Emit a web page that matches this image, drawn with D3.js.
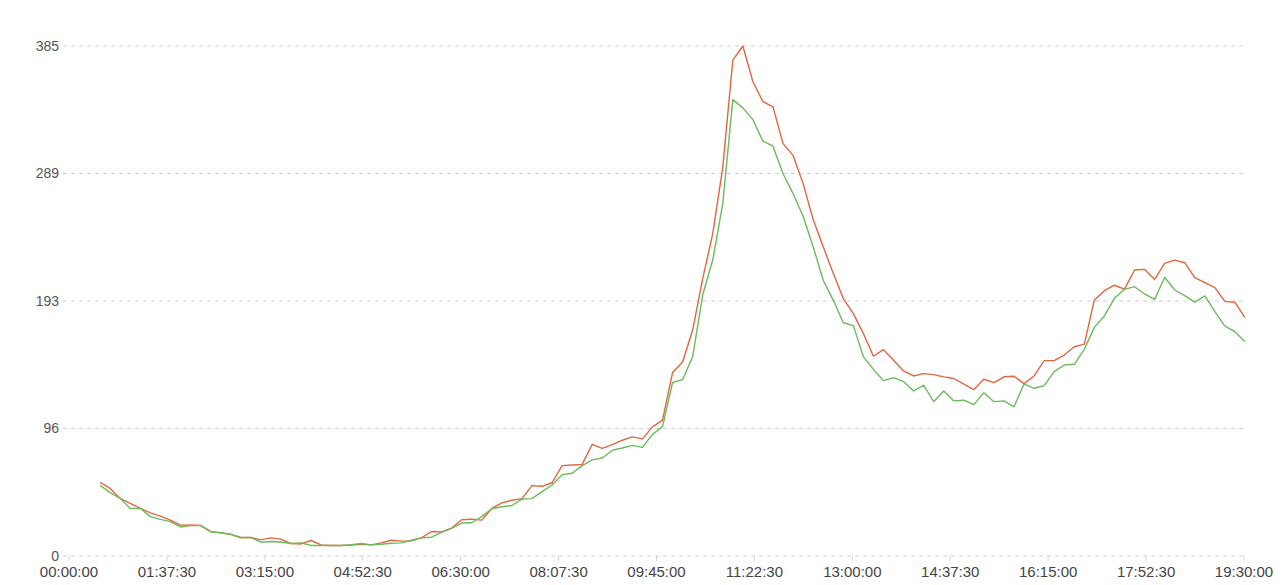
<!DOCTYPE html>
<html lang="en">
<head>
<meta charset="UTF-8">
<title>Chart</title>
<script src="https://d3js.org/d3.v7.min.js"></script>
<style>
    body { margin: 0; background: #fff; }
    svg { display: block; font-family: "Liberation Sans", Arial, sans-serif; }
    .grid line { stroke: #cfcfcf; stroke-dasharray: 4 4; }
    .line { fill: none; stroke-width: 1.4; stroke-linejoin: round; }
</style>
</head>
<body>
<svg width="1286" height="585"></svg>
<script>
    // x tick labels (every 97.5 minutes)
    var xTickLabels = ["00:00:00", "01:37:30", "03:15:00", "04:52:30", "06:30:00", "08:07:30",
        "09:45:00", "11:22:30", "13:00:00", "14:37:30", "16:15:00", "17:52:30", "19:30:00"];
    var yTicks = [0, 96.25, 192.5, 288.75, 385];

    // samples every 10 minutes starting 00:31
    var startMinute = 31, stepMinutes = 10;

    var redValues = [55.6, 51.0, 43.4, 39.7, 35.9, 32.6, 30.1, 27.1, 23.3, 23.5, 23.1, 18.6, 17.5, 16.3, 14.0, 14.0,
        12.2, 13.7, 12.7, 9.4, 9.1, 11.7, 8.4, 7.9, 7.9, 8.2, 8.9, 8.4, 9.9, 11.9, 11.2, 11.4, 13.7, 18.5, 18.2, 21.1,
        27.4, 27.8, 27.1, 35.9, 40.1, 42.1, 43.3, 53.1, 52.6, 55.3, 68.2, 68.7, 69.2, 84.3, 81.3, 84.1, 87.4, 89.9,
        88.4, 97.5, 102.6, 138.5, 146.4, 170.6, 209.4, 243.4, 293.6, 374.3, 385, 358, 343, 339, 311.3, 302.4, 281.1,
        254, 233.5, 213.4, 194.3, 183, 167.9, 150.8, 155.8, 147.7, 139.7, 135.9, 137.7, 136.9, 135.2, 134, 129.7,
        125.6, 133.4, 130.9, 135.3, 135.7, 130.1, 135.9, 147.5, 147.5, 151.7, 158, 160, 193.3, 200.3, 204.4, 201.5,
        215.9, 216.4, 208.8, 220.9, 223.4, 221.4, 210.1, 206.3, 202.6, 192.2, 191.4, 180];

    var greenValues = [53.3, 47.8, 43.5, 35.9, 35.9, 29.7, 27.7, 25.9, 21.9, 22.9, 22.9, 18.3, 17.6, 16.4, 13.8, 14.0,
        10.4, 10.9, 10.6, 9.4, 9.9, 7.9, 7.9, 7.9, 7.9, 8.6, 9.4, 8.4, 8.9, 9.6, 9.9, 11.9, 13.7, 14.2, 17.9, 20.9,
        24.9, 25.1, 29.7, 35.7, 37.2, 38.1, 43.0, 43.3, 48.6, 53.6, 61.4, 62.5, 68.2, 72.6, 74, 79.8, 81.5, 83.5,
        82, 91.8, 97.7, 131, 133.2, 150.3, 197, 223.4, 266, 344.5, 338.3, 329.4, 313.1, 309.4, 288.6, 273.6, 256.5,
        233.5, 208.2, 193.2, 176.1, 173.9, 150.5, 140.9, 132.4, 134.7, 131.7, 124.6, 128.9, 116.5, 124.6, 117.1, 117.6,
        114.3, 123.3, 116.5, 117.1, 112.6, 129.9, 126.6, 128.6, 139.2, 144.2, 144.7, 156, 172.6, 181.2, 194.5, 201.3,
        203.3, 197.8, 193.7, 210.4, 200.8, 196.5, 191.7, 196.3, 184.5, 173.6, 169.3, 161.8];

    var svg = d3.select("svg");

    function toMinutes(s) {
        var p = s.split(":").map(Number);
        return p[0] * 60 + p[1] + p[2] / 60;
    }

    var xScale = d3.scaleLinear().domain([0, 1170]).range([69, 1244]);
    var yScale = d3.scaleLinear().domain([0, 385]).range([556, 46]);

    // horizontal dashed grid lines
    svg.append("g").attr("class", "grid")
        .selectAll("line")
        .data(yTicks)
        .enter().append("line")
        .attr("x1", 63).attr("x2", 1245)
        .attr("y1", function (d) { return yScale(d); })
        .attr("y2", function (d) { return yScale(d); });

    // y labels
    svg.append("g")
        .selectAll("text")
        .data(yTicks)
        .enter().append("text")
        .attr("x", 59)
        .attr("y", function (d) { return yScale(d); })
        .attr("dy", "0.35em")
        .attr("text-anchor", "end")
        .attr("font-size", 14)
        .attr("fill", "#555")
        .text(function (d) { return Math.round(d); });

    // x axis ticks + labels
    var xg = svg.append("g");
    xg.selectAll("line")
        .data(xTickLabels)
        .enter().append("line")
        .attr("x1", function (d) { return xScale(toMinutes(d)); })
        .attr("x2", function (d) { return xScale(toMinutes(d)); })
        .attr("y1", 556).attr("y2", 561)
        .attr("stroke", "#d5d5d5");
    xg.selectAll("text")
        .data(xTickLabels)
        .enter().append("text")
        .attr("x", function (d) { return xScale(toMinutes(d)); })
        .attr("y", 577)
        .attr("text-anchor", "middle")
        .attr("font-size", 15)
        .attr("fill", "#444")
        .text(function (d) { return d; });

    var line = d3.line()
        .x(function (d, i) { return xScale(startMinute + i * stepMinutes); })
        .y(function (d) { return yScale(d); });

    svg.append("path").attr("class", "line")
        .attr("stroke", "#e2663f")
        .attr("d", line(redValues));
    svg.append("path").attr("class", "line")
        .attr("stroke", "#6bbb5c")
        .attr("d", line(greenValues));
</script>
</body>
</html>
